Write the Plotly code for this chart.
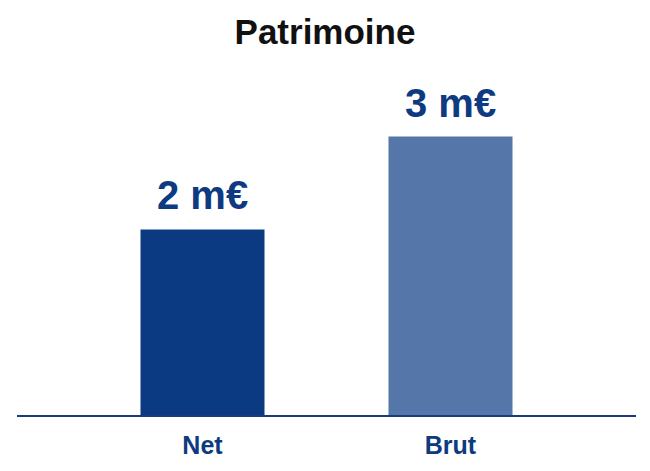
import plotly.graph_objects as go

categories = ["Net", "Brut"]
values = [2.0, 3.0]
labels = ["2 m€", "3 m€"]
colors = ["#0b3a82", "#5476a8"]

fig = go.Figure()
fig.add_trace(go.Bar(x=categories, y=values, marker=dict(color=colors, line=dict(width=0)), width=0.5, hoverinfo="skip"))

for c, v, t in zip(categories, values, labels):
    fig.add_annotation(x=c, y=v, text=t, showarrow=False, yanchor="bottom", yshift=10,
                       font=dict(family="Liberation Sans", size=40, color="#0d3a80", weight="bold"))

fig.update_layout(
    width=650, height=471,
    margin=dict(l=17, r=14, t=80, b=54),
    plot_bgcolor="white", paper_bgcolor="white",
    showlegend=False,
    title=dict(text="Patrimoine", x=0.5, xanchor="center", y=1 - 32 / 471, yanchor="middle", yref="container",
               font=dict(family="Liberation Sans", size=35, color="#111111", weight="bold")),
)
fig.update_xaxes(range=[-0.748, 1.748], showline=True, linecolor="#1a3a80", linewidth=2, showgrid=False,
                 ticks="outside", ticklen=7, tickcolor="rgba(0,0,0,0)",
                 tickfont=dict(family="Liberation Sans", size=25, color="#0d3a80", weight="bold"))
fig.update_yaxes(range=[0, 3.61], visible=False, showgrid=False, zeroline=False)

# page body has a default 8px margin, drop it so the figure sits at 0,0
fig.write_html("out.html", config={"displayModeBar": False},
               post_script="document.body.style.margin='0px';")
